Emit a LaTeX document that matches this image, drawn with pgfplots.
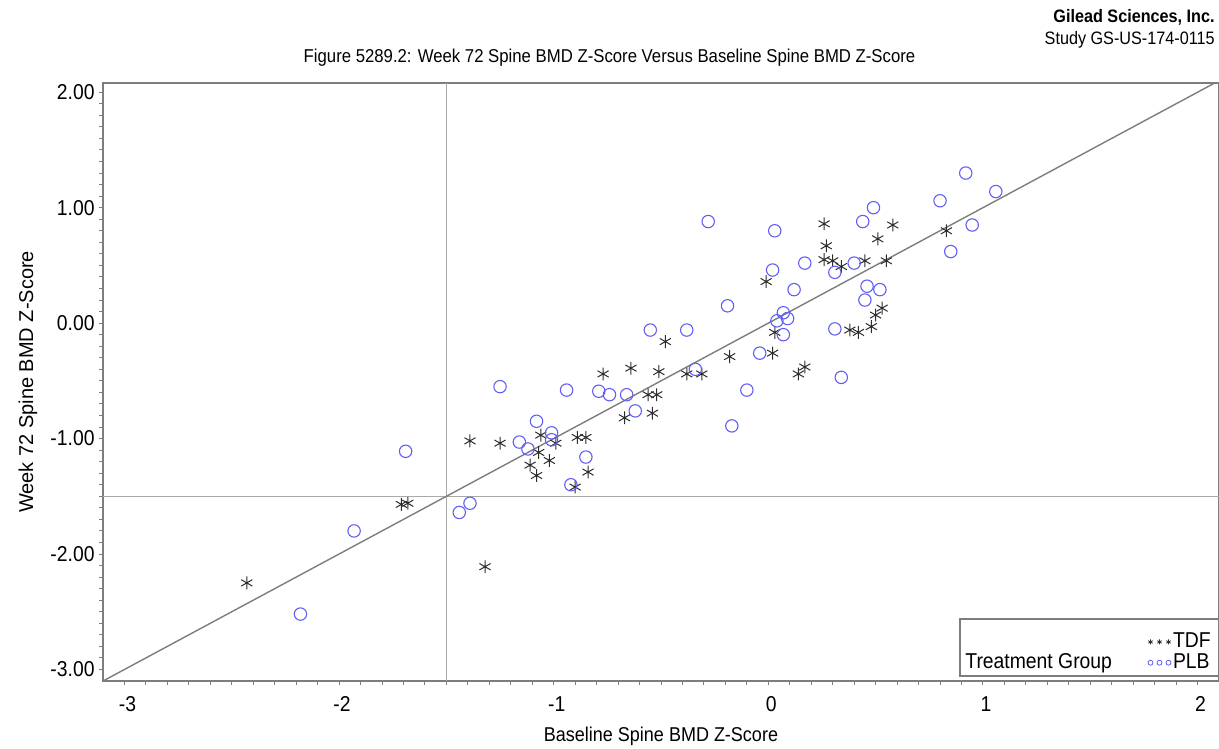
\documentclass[border=0pt]{standalone}
\usepackage{fontspec}
\setmainfont{Liberation Sans}[FakeStretch=0.9]
\newfontfamily\uprightlab{Liberation Sans}
\usepackage{pgfplots}
\pgfplotsset{compat=1.18}
\definecolor{tdfcol}{RGB}{45,45,45}
\definecolor{plbcol}{RGB}{95,95,245}
\definecolor{axcol}{RGB}{125,125,125}
\definecolor{refcol}{RGB}{170,170,170}
\newcommand{\lblfont}{\fontsize{10.75}{12.9}\selectfont}

\begin{document}
\begin{tikzpicture}
\begin{axis}[
    scale only axis,
    width=558pt, height=299pt,
    xmin=-3.1, xmax=2.1,
    ymin=-3.1, ymax=2.08,
    xtick={-3,-2,-1,0,1,2},
    xticklabels={-3,-2,-1,0,1,2},
    ytick={-3,-2,-1,0,1,2},
    yticklabels={-3.00,-2.00,-1.00,0.00,1.00,2.00},
    minor x tick num=9, minor y tick num=9,
    xtick pos=bottom, ytick pos=left,
    tick align=outside,
    major tick length=2.2pt, minor tick length=1.8pt,
    every tick/.style={axcol, line width=0.5pt},
    axis line style={axcol, line width=0.9pt},
    ticklabel style={font=\lblfont},
    xticklabel style={yshift=-2pt, xshift=1.5pt},
    yticklabel style={xshift=1.5pt},
    xlabel={Baseline Spine BMD Z-Score},
    ylabel={\uprightlab Week 72 Spine BMD Z-Score},
    label style={font=\lblfont},
    every axis x label/.style={at={(rel axis cs:0.5,0)}, yshift=-27.5pt, anchor=center},
    every axis y label/.style={at={(rel axis cs:0,0.5)}, xshift=-37.5pt, rotate=90, anchor=center},
    legend image code/.code={\draw[#1, only marks, mark size=1.25pt, line width=0.4pt] plot coordinates {(0pt,0pt) (4.5pt,0pt) (9pt,0pt)};},
    legend style={draw=none, fill=none, at={(rel axis cs:1,0)}, anchor=south east,
        xshift=0pt, yshift=1.5pt, font=\lblfont, row sep=-0.5pt,
        nodes={inner xsep=1pt, inner ysep=1pt}},
    legend cell align=left,
]
% reference lines
\addplot[refcol, line width=0.6pt, forget plot] coordinates {(-1.5,-3.1) (-1.5,2.08)};
\addplot[refcol, line width=0.6pt, forget plot] coordinates {(-3.1,-1.5) (2.1,-1.5)};
\addplot[axcol, line width=0.7pt, forget plot] coordinates {(-3.1,-3.1) (2.1,2.1)};

% TDF
\addplot[only marks, mark=asterisk, mark size=3.2pt, tdfcol, line width=0.5pt] coordinates {
(-2.43,-2.25) (-1.32,-2.11) (-1.71,-1.57) (-1.68,-1.56) (-1.39,-1.02) (-1.25,-1.04)
(-1.06,-0.97) (-0.99,-1.04) (-1.07,-1.12) (-1.02,-1.19) (-1.11,-1.23) (-1.08,-1.32)
(-0.89,-0.99) (-0.85,-0.99) (-0.84,-1.29) (-0.90,-1.42) (-0.77,-0.44) (-0.64,-0.39)
(-0.51,-0.42) (-0.38,-0.44) (-0.31,-0.44) (-0.56,-0.62) (-0.52,-0.62) (-0.67,-0.82)
(-0.54,-0.78) (-0.48,-0.16) (-0.18,-0.29) (0.03,-0.08) (0.02,-0.26) (0.14,-0.44)
(0.17,-0.38) (-0.01,0.36) (0.26,0.86) (0.58,0.85) (0.51,0.73) (0.27,0.67)
(0.26,0.55) (0.30,0.54) (0.34,0.49) (0.45,0.54) (0.55,0.54) (0.38,-0.06)
(0.42,-0.08) (0.48,-0.03) (0.50,0.07) (0.53,0.13) (0.83,0.80)
};
\addlegendentry{TDF}

% PLB
\addplot[only marks, mark=o, mark size=3.1pt, plbcol, line width=0.55pt] coordinates {
(-2.18,-2.52) (-1.93,-1.80) (-1.69,-1.11) (-1.44,-1.64) (-1.39,-1.56) (-1.25,-0.55)
(-0.94,-0.58) (-0.79,-0.59) (-0.74,-0.62) (-0.66,-0.62) (-0.62,-0.76) (-0.34,-0.40)
(-0.10,-0.58) (-0.17,-0.89) (-1.08,-0.85) (-1.01,-0.95) (-1.01,-1.01) (-1.16,-1.03)
(-1.12,-1.09) (-0.85,-1.16) (-0.92,-1.40) (-0.19,0.15) (-0.55,-0.06) (-0.38,-0.06)
(0.07,0.09) (0.04,0.02) (0.09,0.04) (0.07,-0.10) (-0.04,-0.26) (-0.28,0.88)
(0.49,1.00) (0.44,0.88) (0.03,0.80) (0.17,0.52) (0.31,0.44) (0.40,0.52)
(0.02,0.46) (0.12,0.29) (0.46,0.32) (0.52,0.29) (0.45,0.20) (0.31,-0.05)
(0.34,-0.47) (0.92,1.30) (1.06,1.14) (0.80,1.06) (0.95,0.85) (0.85,0.62)
};
\addlegendentry{PLB}

\coordinate (sw) at (rel axis cs:0,0);
\coordinate (ne) at (rel axis cs:1,1);
\end{axis}

% legend frame and title
\draw[axcol, line width=0.6pt] ([xshift=-129.5pt, yshift=2.5pt]ne |- sw) rectangle ([yshift=31pt]ne |- sw);
\node[anchor=west, font=\lblfont, inner sep=0pt] at ([xshift=-127pt, yshift=9pt]ne |- sw) {Treatment Group};

% titles
\node[font=\fontsize{9.3}{11}\selectfont, inner sep=0pt] at ([xshift=253.25pt]sw |- ne) [yshift=12.5pt] {Figure 5289.2: Week 72 Spine BMD Z-Score Versus Baseline Spine BMD Z-Score};
\node[anchor=east, font=\fontsize{9}{11}\selectfont\bfseries, inner sep=0pt] at ([xshift=-2pt, yshift=33pt]ne) {Gilead Sciences, Inc.};
\node[anchor=east, font=\fontsize{9}{11}\selectfont, inner sep=0pt] at ([xshift=-2pt, yshift=21.5pt]ne) {Study GS-US-174-0115};

\pgfresetboundingbox
\path ([xshift=-51.5pt, yshift=-33.5pt]sw) rectangle ([yshift=41.5pt]ne);
\end{tikzpicture}
\end{document}
